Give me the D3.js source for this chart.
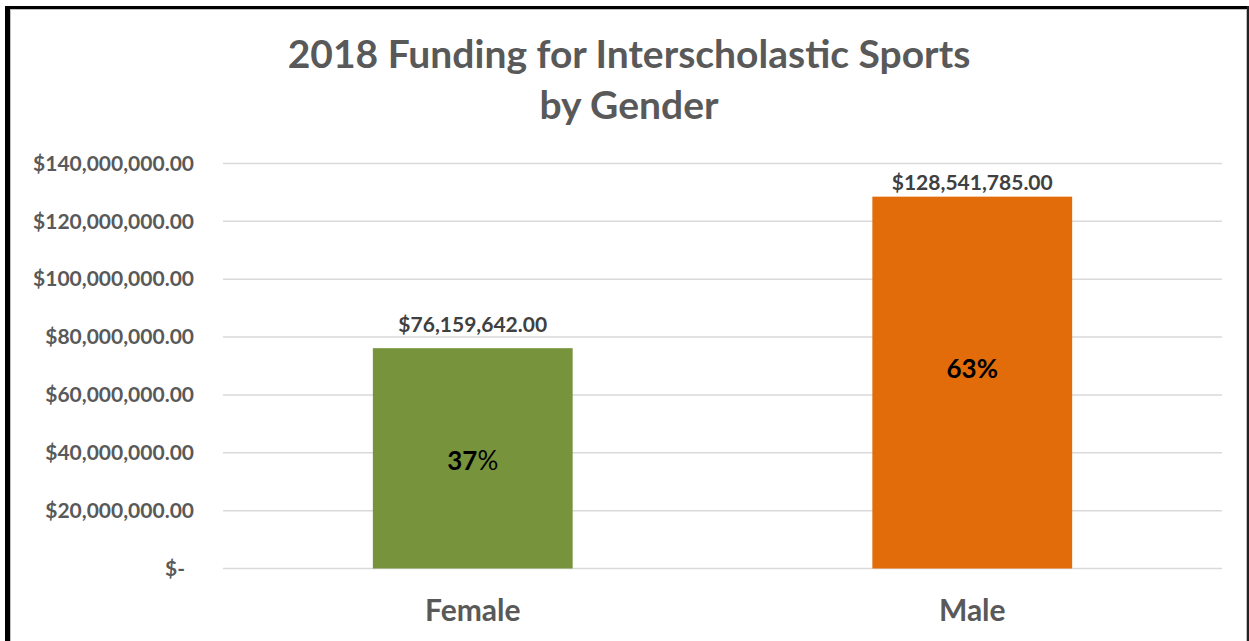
<!DOCTYPE html>
<html>
<head>
<meta charset="UTF-8">
<title>2018 Funding for Interscholastic Sports by Gender</title>
<style>
  body { margin: 0; background: #fff; }
  svg { display: block; font-family: Lato, "Open Sans", sans-serif; }
</style>
</head>
<body>
<script src="https://d3js.org/d3.v7.min.js"></script>
<script>
// data
var categories = ["Female", "Male"];
var funding = [76159642, 128541785];
var barColors = ["#77933C", "#E36C0A"];
var yTicks = [0, 20000000, 40000000, 60000000, 80000000, 100000000, 120000000, 140000000];
var titleLines = ["2018 Funding for Interscholastic Sports", "by Gender"];

var W = 1249, H = 641;
var margin = { top: 163.5, right: 27, bottom: 72.5, left: 223 };
var width = W - margin.left - margin.right,
    height = H - margin.top - margin.bottom;

var svg = d3.select("body").append("svg")
    .attr("width", W)
    .attr("height", H);

// frame
svg.append("rect").attr("x", 0).attr("y", 0).attr("width", W).attr("height", H).attr("fill", "#fff");
svg.append("rect").attr("x", 10.5).attr("y", 9.5).attr("width", 1236).attr("height", 640)
    .attr("fill", "none").attr("stroke", "#bfbfbf").attr("stroke-width", 1);
svg.append("rect").attr("x", 5).attr("y", 6).attr("width", 5).attr("height", H - 6).attr("fill", "#000");
svg.append("rect").attr("x", 5).attr("y", 6).attr("width", W - 5).attr("height", 3).attr("fill", "#000");
svg.append("rect").attr("x", 1247).attr("y", 6).attr("width", 2).attr("height", H - 6).attr("fill", "#222");

// title
svg.append("text")
    .attr("text-anchor", "middle")
    .attr("font-size", 39)
    .attr("font-weight", "bold")
    .attr("fill", "#595959")
    .selectAll("tspan")
    .data(titleLines)
    .enter().append("tspan")
    .attr("x", 629)
    .attr("y", (d, i) => 68 + i * 51)
    .text(d => d);

var g = svg.append("g")
    .attr("transform", "translate(" + margin.left + "," + margin.top + ")");

var x = d3.scaleBand()
    .domain(categories)
    .range([0, width])
    .paddingInner(0.6)
    .paddingOuter(0.3);

var y = d3.scaleLinear()
    .domain([0, 140000000])
    .range([height, 0]);

var money = d3.format(",.2f");
var fmtTick = d => d === 0 ? "$-" : "$" + money(d);

// gridlines
g.append("g")
    .selectAll("line")
    .data(yTicks)
    .enter().append("line")
    .attr("x1", 0)
    .attr("x2", width)
    .attr("y1", d => y(d))
    .attr("y2", d => y(d))
    .attr("stroke", "#d9d9d9")
    .attr("stroke-width", 1.5);

// y axis labels
var yAxis = d3.axisLeft(y).tickValues(yTicks).tickFormat(fmtTick).tickSize(0).tickPadding(29);
g.append("g")
    .call(yAxis)
    .call(a => a.select(".domain").remove())
    .call(a => a.selectAll("text")
        .attr("font-family", "Lato, sans-serif")
        .attr("font-size", 21)
        .attr("font-weight", "bold")
        .attr("fill", "#595959")
        .attr("dx", d => d === 0 ? -9 : 0));

var data = categories.map((c, i) => ({ name: c, value: funding[i], color: barColors[i] }));
var total = d3.sum(funding);

// bars
g.append("g")
    .selectAll("rect")
    .data(data)
    .enter().append("rect")
    .attr("x", d => x(d.name))
    .attr("y", d => y(d.value))
    .attr("width", x.bandwidth())
    .attr("height", d => height - y(d.value))
    .attr("fill", d => d.color);

// value labels
g.append("g")
    .selectAll("text")
    .data(data)
    .enter().append("text")
    .attr("x", d => x(d.name) + x.bandwidth() / 2)
    .attr("y", d => y(d.value) - (d.name === "Male" ? 7 : 16))
    .attr("text-anchor", "middle")
    .attr("font-size", 21)
    .attr("font-weight", "bold")
    .attr("fill", "#404040")
    .text(d => "$" + money(d.value));

// percent labels
var pct = g.append("g")
    .selectAll("text")
    .data(data)
    .enter().append("text")
    .attr("x", d => x(d.name) + x.bandwidth() / 2)
    .attr("y", d => (y(d.value) + height) / 2 + (d.name === "Male" ? -5 : 12))
    .attr("text-anchor", "middle")
    .attr("font-size", 26)
    .attr("font-weight", "bold")
    .attr("fill", "#000");
pct.append("tspan").text(d => Math.round(d.value / total * 100));
pct.append("tspan").attr("font-weight", d => d.name === "Female" ? "normal" : "bold").text("%");

// category labels
var xAxis = d3.axisBottom(x).tickSize(0).tickPadding(31);
g.append("g")
    .attr("transform", "translate(0," + height + ")")
    .call(xAxis)
    .call(a => a.select(".domain").remove())
    .call(a => a.selectAll("text")
        .attr("font-family", "Lato, sans-serif")
        .attr("font-size", 30)
        .attr("font-weight", "bold")
        .attr("fill", "#595959"));
</script>
</body>
</html>
